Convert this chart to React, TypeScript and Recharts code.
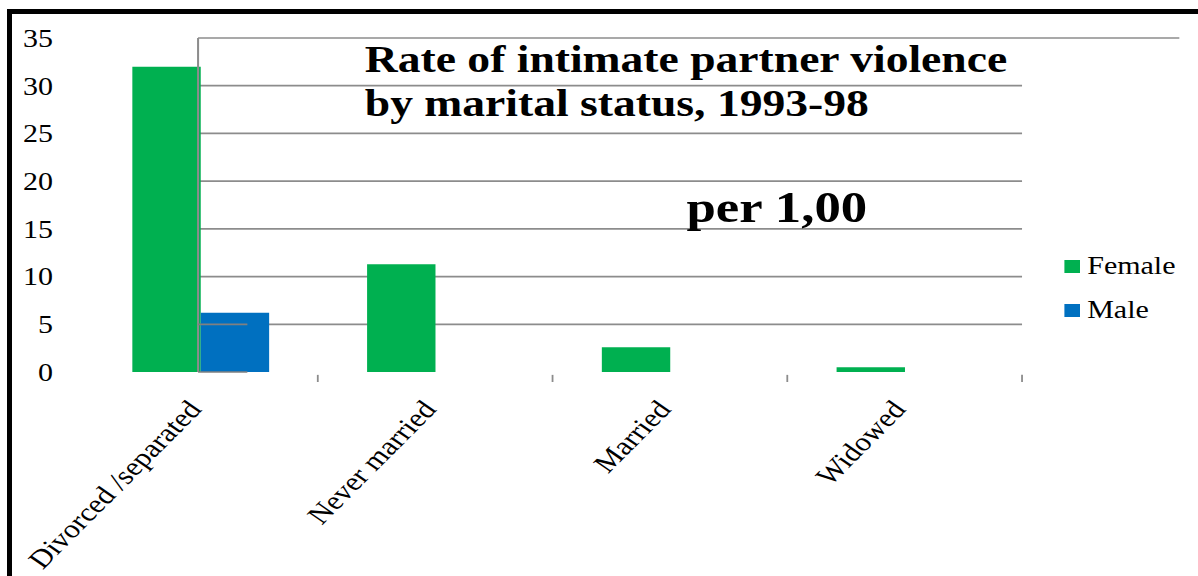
import React from "react";
import { BarChart, Bar, XAxis, YAxis, ReferenceLine, Legend } from "recharts";

const categories = ["Divorced /separated", "Never married", "Married", "Widowed"];
const femaleRates = [32, 11.3, 2.6, 0.5];
const maleRates: (number | null)[] = [6.2, null, null, null];
const yTicks = [0, 5, 10, 15, 20, 25, 30, 35];
const gridLevels = [5, 10, 15, 20, 25, 30];
const titleLines = ["Rate of intimate partner violence", "by marital status, 1993-98"];
const subtitle = "per 1,00";

// slot = middle of each category on a 0..4 number line, used by the guide axis
const data = categories.map((name, i) => ({
  name,
  slot: i + 0.5,
  female: femaleRates[i],
  male: maleRates[i],
}));

// the reference picture is stretched sideways, so draw narrower and scale x
const SX = 1.2;
const W = 998;
const H = 576;
const FONT = '"Liberation Serif", "Times New Roman", serif';
const GREEN = "#00B050";
const BLUE = "#0070C0";
const GRID = "#8c8c8c";
// the grid panel starts near the middle of the first category
const PANEL_X = 0.49;

function CategoryTick({ x, y, payload }: any) {
  return (
    <text
      transform={`translate(${x + 2},${y + 30}) rotate(-50.2)`}
      textAnchor="end"
      fontFamily={FONT}
      fontSize={26}
      fill="#000"
    >
      {payload.value}
    </text>
  );
}

function LegendList({ payload }: any) {
  return (
    <div style={{ fontFamily: FONT, fontSize: 25, color: "#000" }}>
      {(payload || []).map((p: any) => (
        <div
          key={p.value}
          style={{ display: "flex", alignItems: "center", height: 44 }}
        >
          <span
            style={{
              width: 13,
              height: 13,
              background: p.color,
              marginRight: 6,
              display: "inline-block",
            }}
          />
          <span>{p.value}</span>
        </div>
      ))}
    </div>
  );
}

export default function App() {
  return (
    <div
      style={{
        position: "fixed",
        left: 0,
        top: 0,
        width: 1198,
        height: 576,
        overflow: "hidden",
        background: "#fff",
      }}
    >
      <div
        style={{
          position: "absolute",
          left: 7,
          top: 9,
          width: 1300,
          height: 700,
          border: "5px solid #000",
        }}
      />
      <div
        style={{
          position: "absolute",
          left: 0,
          top: 0,
          width: W,
          height: H,
          transform: `scaleX(${SX})`,
          transformOrigin: "0 0",
        }}
      >
        <BarChart
          width={W}
          height={H}
          data={data}
          margin={{ top: 38, right: 146.3, bottom: 4, left: 0 }}
          barGap={0}
          barCategoryGap="21%"
        >
          <XAxis
            xAxisId="cat"
            dataKey="name"
            height={200}
            axisLine={false}
            tickLine={false}
            interval={0}
            tick={<CategoryTick />}
          />
          <XAxis
            xAxisId="g"
            dataKey="slot"
            type="number"
            domain={[0, 4]}
            allowDataOverflow
            hide
          />
          <YAxis
            width={69.2}
            domain={[0, 35]}
            ticks={yTicks}
            interval={0}
            axisLine={false}
            tickLine={false}
            tickSize={0}
            tickMargin={25}
            tick={{ fontFamily: FONT, fontSize: 25, fill: "#000" }}
          />
          {gridLevels.map((v) => (
            <ReferenceLine
              key={`g${v}`}
              xAxisId="g"
              segment={[
                { x: PANEL_X, y: v },
                { x: 4, y: v },
              ]}
              stroke={GRID}
              strokeWidth={1.7}
              ifOverflow="visible"
              zIndex={-100}
            />
          ))}
          <ReferenceLine
            xAxisId="g"
            segment={[
              { x: PANEL_X, y: 35 },
              { x: 4.67, y: 35 },
            ]}
            stroke={GRID}
            strokeWidth={1.7}
            ifOverflow="visible"
            zIndex={-100}
          />
          {[1, 2, 3, 4].map((k) => (
            <ReferenceLine
              key={`t${k}`}
              xAxisId="g"
              segment={[
                { x: k, y: -0.3 },
                { x: k, y: -1.05 },
              ]}
              stroke={GRID}
              strokeWidth={1.5}
              ifOverflow="visible"
            />
          ))}
          <Bar
            xAxisId="cat"
            dataKey="female"
            name="Female"
            fill={GREEN}
            isAnimationActive={false}
          />
          <Bar
            xAxisId="cat"
            dataKey="male"
            name="Male"
            fill={BLUE}
            isAnimationActive={false}
          />
          <ReferenceLine
            xAxisId="g"
            segment={[
              { x: PANEL_X, y: 0 },
              { x: PANEL_X, y: 35 },
            ]}
            stroke={GRID}
            strokeWidth={1.7}
            ifOverflow="visible"
            zIndex={1000}
          />
          {[0, 5].map((v) => (
            <ReferenceLine
              key={`b${v}`}
              xAxisId="g"
              segment={[
                { x: PANEL_X, y: v },
                { x: 0.7, y: v },
              ]}
              stroke="#808080"
              strokeWidth={1.7}
              ifOverflow="visible"
              zIndex={1000}
            />
          ))}
          <Legend
            layout="horizontal"
            align="center"
            verticalAlign="middle"
            content={<LegendList />}
            wrapperStyle={{ left: 887, top: 244, width: 110, margin: 0 }}
          />
        </BarChart>
        <svg
          width={W}
          height={H}
          style={{ position: "absolute", left: 0, top: 0, pointerEvents: "none" }}
        >
          <text fontFamily={FONT} fontWeight="bold" fontSize={38} fill="#000">
            <tspan x={304} y={72}>
              {titleLines[0]}
            </tspan>
            <tspan x={304} y={116}>
              {titleLines[1]}
            </tspan>
          </text>
          <text
            x={572}
            y={222}
            fontFamily={FONT}
            fontWeight="bold"
            fontSize={44}
            fill="#000"
          >
            {subtitle}
          </text>
        </svg>
      </div>
    </div>
  );
}
